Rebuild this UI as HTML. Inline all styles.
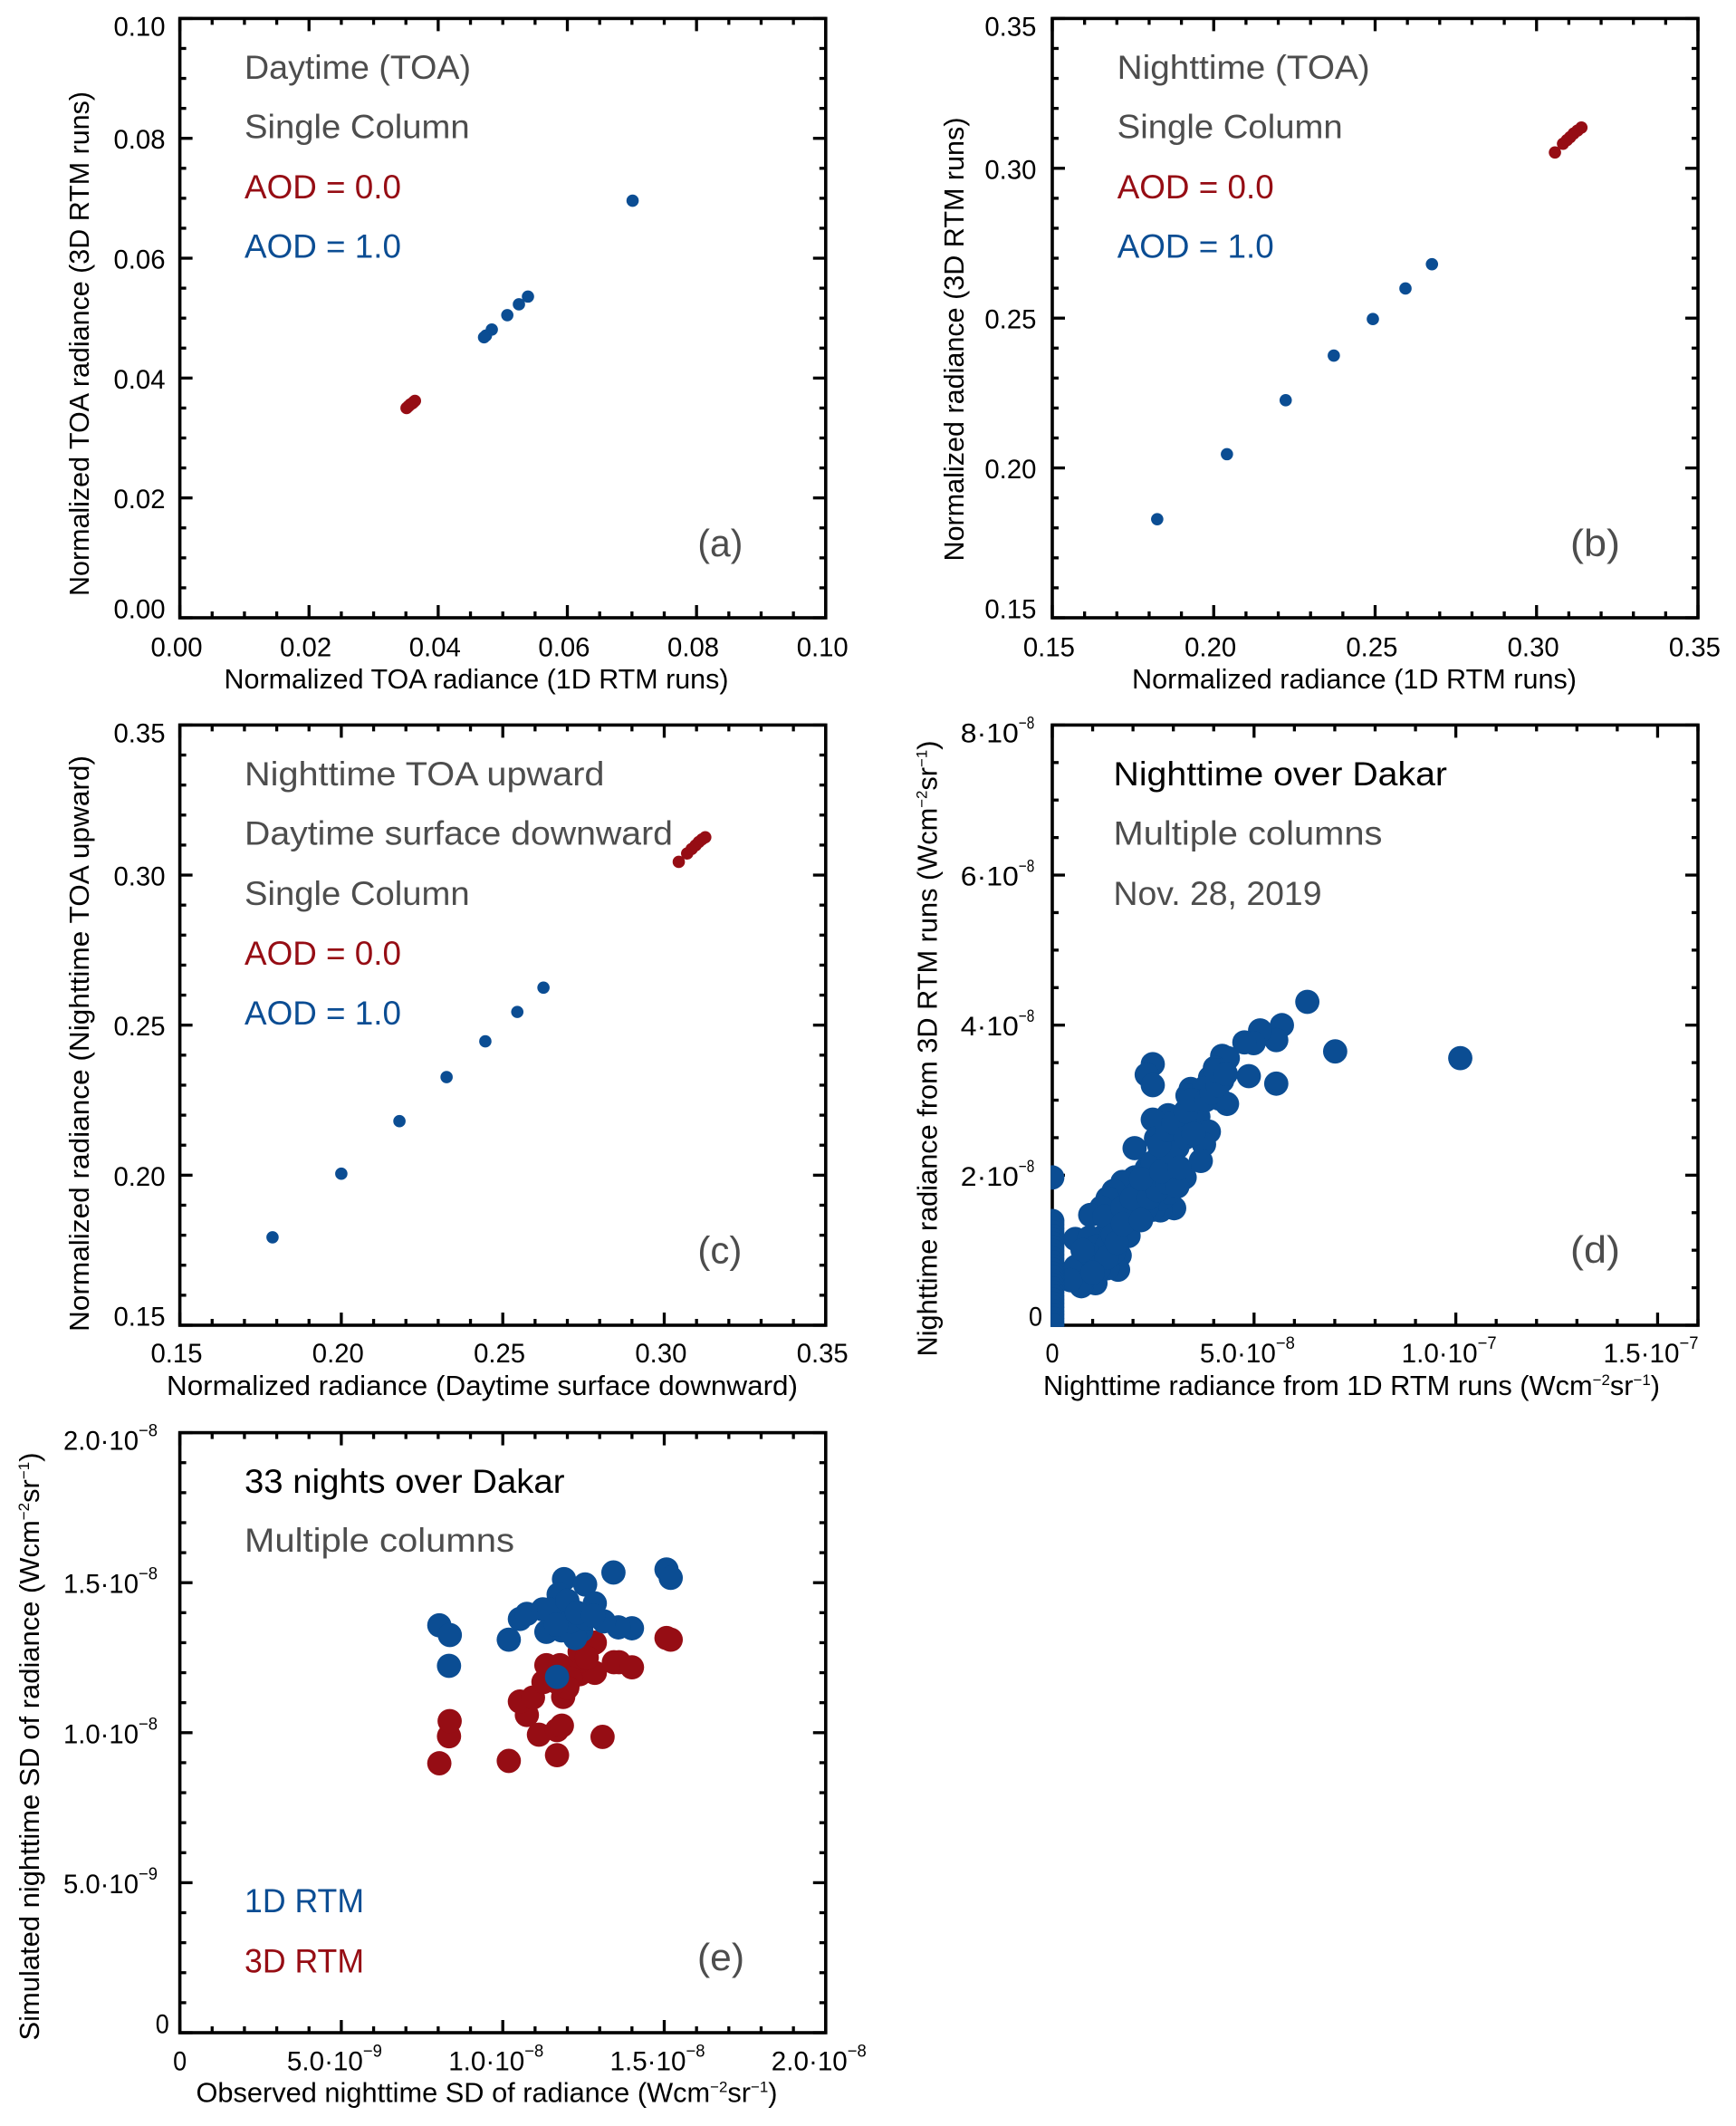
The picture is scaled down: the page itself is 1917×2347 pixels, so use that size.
<!DOCTYPE html>
<html lang="en">
<head>
<meta charset="utf-8">
<title>Radiance comparison scatter panels</title>
<style>
html,body{margin:0;padding:0;background:#fff;}
svg{display:block;}
text{font-family:"Liberation Sans",sans-serif;}
.note{font-size:37.5px;}
.plabel{font-size:42px;}
.grey{fill:#4d4d4d;}
.blk{fill:#000;}
.red{fill:#960d14;}
.blue{fill:#0b4d93;}
.ttl{font-size:31px;fill:#000;}
</style>
</head>
<body>
<svg id="fig" xmlns="http://www.w3.org/2000/svg" width="1917" height="2347" viewBox="0 0 1917 2347">
<rect x="0" y="0" width="1917" height="2347" fill="#fff"/>
<g id="marks-layer"></g>

<!-- panel a text -->
<text class="note grey" x="270" y="87" textLength="250" lengthAdjust="spacingAndGlyphs">Daytime (TOA)</text>
<text class="note grey" x="270" y="152.7" textLength="248.6" lengthAdjust="spacingAndGlyphs">Single Column</text>
<text class="note red" x="270" y="219" textLength="173" lengthAdjust="spacingAndGlyphs">AOD = 0.0</text>
<text class="note blue" x="270" y="284.6" textLength="173" lengthAdjust="spacingAndGlyphs">AOD = 1.0</text>
<text class="plabel grey" x="770.4" y="614" textLength="50" lengthAdjust="spacingAndGlyphs">(a)</text>
<text class="ttl" x="247.5" y="760" textLength="557" lengthAdjust="spacingAndGlyphs">Normalized TOA radiance (1D RTM runs)</text>
<text class="ttl" transform="translate(98,658) rotate(-90)" textLength="557" lengthAdjust="spacingAndGlyphs">Normalized TOA radiance (3D RTM runs)</text>

<!-- panel b text -->
<text class="note grey" x="1233.7" y="87" textLength="279" lengthAdjust="spacingAndGlyphs">Nighttime (TOA)</text>
<text class="note grey" x="1233.7" y="152.7" textLength="249" lengthAdjust="spacingAndGlyphs">Single Column</text>
<text class="note red" x="1233.7" y="219" textLength="173" lengthAdjust="spacingAndGlyphs">AOD = 0.0</text>
<text class="note blue" x="1233.7" y="284.6" textLength="173" lengthAdjust="spacingAndGlyphs">AOD = 1.0</text>
<text class="plabel grey" x="1734" y="614" textLength="55" lengthAdjust="spacingAndGlyphs">(b)</text>
<text class="ttl" x="1250" y="760" textLength="491" lengthAdjust="spacingAndGlyphs">Normalized radiance (1D RTM runs)</text>
<text class="ttl" transform="translate(1063.8,619.5) rotate(-90)" textLength="490" lengthAdjust="spacingAndGlyphs">Normalized radiance (3D RTM runs)</text>

<!-- panel c text -->
<text class="note grey" x="270" y="867" textLength="397.5" lengthAdjust="spacingAndGlyphs">Nighttime TOA upward</text>
<text class="note grey" x="270" y="932.7" textLength="473" lengthAdjust="spacingAndGlyphs">Daytime surface downward</text>
<text class="note grey" x="270" y="999" textLength="248.6" lengthAdjust="spacingAndGlyphs">Single Column</text>
<text class="note red" x="270" y="1065" textLength="173" lengthAdjust="spacingAndGlyphs">AOD = 0.0</text>
<text class="note blue" x="270" y="1131" textLength="173" lengthAdjust="spacingAndGlyphs">AOD = 1.0</text>
<text class="plabel grey" x="770.4" y="1394.4" textLength="49" lengthAdjust="spacingAndGlyphs">(c)</text>
<text class="ttl" x="184" y="1540" textLength="697" lengthAdjust="spacingAndGlyphs">Normalized radiance (Daytime surface downward)</text>
<text class="ttl" transform="translate(98,1470) rotate(-90)" textLength="636" lengthAdjust="spacingAndGlyphs">Normalized radiance (Nighttime TOA upward)</text>

<!-- panel d text -->
<text class="note blk" x="1229.5" y="867" textLength="368.5" lengthAdjust="spacingAndGlyphs">Nighttime over Dakar</text>
<text class="note grey" x="1229.5" y="932.7" textLength="297" lengthAdjust="spacingAndGlyphs">Multiple columns</text>
<text class="note grey" x="1229.5" y="999" textLength="230" lengthAdjust="spacingAndGlyphs">Nov. 28, 2019</text>
<text class="plabel grey" x="1734" y="1394" textLength="55" lengthAdjust="spacingAndGlyphs">(d)</text>
<text class="ttl" x="1152" y="1540" textLength="681" lengthAdjust="spacingAndGlyphs">Nighttime radiance from 1D RTM runs (Wcm<tspan dy="-11" font-size="17">−2</tspan><tspan dy="11">sr</tspan><tspan dy="-11" font-size="17">−1</tspan><tspan dy="11">)</tspan></text>
<text class="ttl" transform="translate(1034.5,1497.5) rotate(-90)" textLength="680" lengthAdjust="spacingAndGlyphs">Nighttime radiance from 3D RTM runs (Wcm<tspan dy="-11" font-size="17">−2</tspan><tspan dy="11">sr</tspan><tspan dy="-11" font-size="17">−1</tspan><tspan dy="11">)</tspan></text>

<!-- panel e text -->
<text class="note blk" x="270" y="1648" textLength="353.5" lengthAdjust="spacingAndGlyphs">33 nights over Dakar</text>
<text class="note grey" x="270" y="1713" textLength="298" lengthAdjust="spacingAndGlyphs">Multiple columns</text>
<text class="note blue" x="270" y="2111" textLength="132" lengthAdjust="spacingAndGlyphs">1D RTM</text>
<text class="note red" x="270" y="2177.5" textLength="132" lengthAdjust="spacingAndGlyphs">3D RTM</text>
<text class="plabel grey" x="770" y="2175" textLength="52" lengthAdjust="spacingAndGlyphs">(e)</text>
<text class="ttl" x="216.5" y="2320.5" textLength="642" lengthAdjust="spacingAndGlyphs">Observed nighttime SD of radiance (Wcm<tspan dy="-11" font-size="17">−2</tspan><tspan dy="11">sr</tspan><tspan dy="-11" font-size="17">−1</tspan><tspan dy="11">)</tspan></text>
<text class="ttl" transform="translate(43,2252.5) rotate(-90)" textLength="649" lengthAdjust="spacingAndGlyphs">Simulated nighttime SD of radiance (Wcm<tspan dy="-11" font-size="17">−2</tspan><tspan dy="11">sr</tspan><tspan dy="-11" font-size="17">−1</tspan><tspan dy="11">)</tspan></text>
</svg>

<script>
// ---- Panel (a) ----
const aBlueX = [0.0701, 0.0539, 0.0525, 0.0507, 0.0483, 0.0474, 0.0471];
const aBlueY = [0.0696, 0.0536, 0.0523, 0.0505, 0.0481, 0.0471, 0.0468];
const aRedX = [0.0351, 0.0354, 0.0357, 0.0360, 0.0362, 0.0364];
const aRedY = [0.0350, 0.0353, 0.0356, 0.0358, 0.0360, 0.0362];
const aTicks = [0, 0.02, 0.04, 0.06, 0.08, 0.10];
const aTickLabels = ["0.00", "0.02", "0.04", "0.06", "0.08", "0.10"];

// ---- Panel (b) ----
const bBlueX = [0.1825, 0.2041, 0.2223, 0.2372, 0.2493, 0.2594, 0.2676];
const bBlueY = [0.1829, 0.2046, 0.2226, 0.2375, 0.2497, 0.2599, 0.2680];
const bRedX = [0.3057, 0.3082, 0.3094, 0.3104, 0.3115, 0.3127, 0.3139];
const bRedY = [0.3053, 0.3082, 0.3094, 0.3104, 0.3116, 0.3126, 0.3136];
const bcTicks = [0.15, 0.20, 0.25, 0.30, 0.35];
const bcTickLabels = ["0.15", "0.20", "0.25", "0.30", "0.35"];

// ---- Panel (c) ----
const cBlueX = [0.1787, 0.2000, 0.2180, 0.2326, 0.2446, 0.2545, 0.2626];
const cBlueY = [0.1793, 0.2005, 0.2180, 0.2327, 0.2446, 0.2544, 0.2625];
const cRedX = [0.3045, 0.3071, 0.3085, 0.3097, 0.3107, 0.3117, 0.3127];
const cRedY = [0.3044, 0.3072, 0.3087, 0.3099, 0.3110, 0.3119, 0.3126];

// ---- Panel (d), values in units of 1e-8 W cm-2 sr-1 ----
const dX = [10.11, 6.32, 7.01, 5.55, 5.69, 5.55, 5.15, 4.99, 4.76, 4.87, 4.21, 4.35, 4.03, 4.33, 4.14, 4.21, 3.91,
  2.49, 2.34, 2.49, 3.43, 3.35, 3.76, 3.65, 2.87, 2.49, 3.62, 3.88, 3.76, 3.68, 3.28, 2.04, 2.57, 3.09, 3.02, 2.64,
  2.34, 3.02, 2.72, 2.04, 1.74, 1.52, 1.37, 1.22, 0.94, 3.02, 2.68, 2.49, 1.89, 2.01, 1.59, 1.89, 1.67, 1.63, 1.07,
  0.72, 0.58, 0.57, 1.00, 1.22, 1.37, 0.92, 1.44, 2.12, 2.49, 2.72, 2.34, 3.10, 2.94, 2.79, 3.17, 3.24, 2.87, 2.49,
  3.39, 3.47, 2.90, 0.92, 0.70, 1.29, 1.74, 1.97, 0.85, 1.52, 1.22,
  1.10, 1.35, 1.50, 1.15, 0.90, 0.75, 0.75, 1.35, 1.60, 1.75, 2.20, 2.40, 2.60, 2.85, 3.10, 2.20, 2.70, 2.95, 3.15,
  2.65, 2.85, 3.00, 3.30, 3.50, 3.30, 3.45, 3.80, 3.95, 4.10, 4.05, 4.30, 0.50, 0.45, 1.00,
  0, 0, 0, 0, 0, 0, 0, 0, 0, 0, 0, 0, 0, 0, 0, 0, 0, 0, 0, 0, 0, 0, 0, 0, 0, 0, 0, 0, 0, 0];
const dY = [3.56, 4.31, 3.65, 3.22, 4.00, 3.80, 3.93, 3.76, 3.77, 3.32, 3.59, 3.56, 3.43, 2.95, 3.02, 3.26, 3.30,
  3.48, 3.34, 3.20, 3.15, 3.06, 3.16, 2.98, 2.80, 2.74, 2.78, 2.58, 2.41, 2.19, 1.97, 2.36, 2.49, 2.58, 2.37, 2.25,
  2.09, 2.17, 1.93, 1.97, 1.91, 1.79, 1.69, 1.57, 1.47, 1.56, 1.53, 1.54, 1.33, 1.49, 1.37, 1.19, 0.93, 0.74, 0.56,
  0.52, 0.78, 1.15, 0.97, 1.17, 0.76, 0.72, 1.37, 1.77, 1.85, 1.69, 1.57, 2.37, 2.01, 2.49, 2.78, 2.58, 2.25, 2.17,
  2.66, 2.90, 1.77, 1.17, 0.80, 1.45, 1.57, 1.69, 0.85, 0.97, 0.85,
  1.05, 1.05, 1.20, 0.75, 0.95, 0.60, 1.00, 0.90, 1.10, 1.35, 1.40, 1.70, 1.80, 1.90, 1.85, 1.95, 2.05, 2.30, 2.10,
  2.40, 2.60, 2.70, 2.50, 2.55, 2.85, 3.00, 3.00, 3.10, 3.20, 3.40, 3.35, 0.72, 0.60, 0.70,
  1.97, 1.39, 1.34, 1.29, 1.24, 1.19, 1.14, 1.09, 1.04, 0.99, 0.94, 0.89, 0.84, 0.79, 0.74, 0.69, 0.64, 0.59, 0.54,
  0.49, 0.44, 0.39, 0.34, 0.29, 0.24, 0.19, 0.14, 0.09, 0.04, 0];
const dXTicks = [0, 5, 10, 15];
const dXTickLabels = ["0", "5.0·10", "1.0·10", "1.5·10"];
const dXTickExps = ["", "−8", "−7", "−7"];
const dYTicks = [0, 2, 4, 6, 8];
const dYTickLabels = ["0", "2·10", "4·10", "6·10", "8·10"];
const dYTickExps = ["", "−8", "−8", "−8", "−8"];

// ---- Panel (e), values in units of 1e-8 W cm-2 sr-1 ----
const eRedX = [0.8035, 1.0186, 1.168, 1.309, 0.8335, 0.8355, 1.112, 1.168, 1.183, 1.0746, 1.053, 1.0935, 1.187,
  1.126, 1.135, 1.177, 1.238, 1.285, 1.241, 1.285, 1.344, 1.36, 1.40, 1.507, 1.52, 1.238, 1.21, 1.20, 1.26, 1.165];
const eRedY = [0.898, 0.906, 0.925, 0.986, 0.988, 1.0387, 0.9934, 1.0085, 1.0236, 1.059, 1.104, 1.117, 1.119,
  1.169, 1.225, 1.225, 1.195, 1.1996, 1.24, 1.30, 1.235, 1.235, 1.218, 1.3155, 1.31, 1.27, 1.18, 1.15, 1.25, 1.17];
const eBlueX = [0.8035, 0.836, 0.8335, 1.0186, 1.053, 1.0746, 1.124, 1.135, 1.1896, 1.173, 1.255, 1.285, 1.3427,
  1.507, 1.52, 1.40, 1.358, 1.313, 1.243, 1.224, 1.182, 1.187, 1.21, 1.163, 1.145, 1.257, 1.168, 1.20, 1.23, 1.165, 1.28];
const eBlueY = [1.358, 1.3255, 1.2228, 1.31, 1.379, 1.396, 1.411, 1.336, 1.512, 1.461, 1.494, 1.431, 1.534,
  1.544, 1.516, 1.348, 1.351, 1.371, 1.341, 1.3155, 1.341, 1.411, 1.371, 1.391, 1.411, 1.381, 1.186, 1.44, 1.40, 1.36, 1.39];
const eTicks = [0, 0.5, 1.0, 1.5, 2.0];
const eXTickLabels = ["0", "5.0·10", "1.0·10", "1.5·10", "2.0·10"];
const eXTickExps = ["", "−9", "−8", "−8", "−8"];
const eYTickLabels = ["0", "5.0·10", "1.0·10", "1.5·10", "2.0·10"];
const eYTickExps = ["", "−9", "−8", "−8", "−8"];

const RED = "#960d14";
const BLUE = "#0b4d93";
const NS = "http://www.w3.org/2000/svg";
const layer = document.getElementById("marks-layer");

function node(parent, tag) {
  const el = document.createElementNS(NS, tag);
  parent.appendChild(el);
  return el;
}

function label(parent, name, str, x, y, size, anchor, len) {
  const el = node(parent, "text");
  
  
  el.setAttribute("x", x);
  el.setAttribute("y", y);
  el.setAttribute("font-size", size);
  el.setAttribute("fill", "#000");
  el.setAttribute("text-anchor", anchor);
  if (len) {
    el.setAttribute("textLength", len);
    el.setAttribute("lengthAdjust", "spacingAndGlyphs");
  }
  el.textContent = str;
  return el;
}

function tickLine(parent, name, x1, y1, x2, y2, w) {
  const el = node(parent, "line");
  
  
  el.setAttribute("x1", x1);
  el.setAttribute("y1", y1);
  el.setAttribute("x2", x2);
  el.setAttribute("y2", y2);
  el.setAttribute("stroke", "#000");
  el.setAttribute("stroke-width", w);
}

function drawPanel(p) {
  const g = node(layer, "g");
  
  
  const xS = v => p.L + (v - p.xDom[0]) / (p.xDom[1] - p.xDom[0]) * (p.R - p.L);
  const yS = v => p.B - (v - p.yDom[0]) / (p.yDom[1] - p.yDom[0]) * (p.B - p.T);

  const frame = node(g, "rect");
  
  
  frame.setAttribute("x", p.L);
  frame.setAttribute("y", p.T);
  frame.setAttribute("width", p.R - p.L);
  frame.setAttribute("height", p.B - p.T);
  frame.setAttribute("fill", "none");
  frame.setAttribute("stroke", "#000");
  frame.setAttribute("stroke-width", 3.6);

  // ticks on all four sides
  const ticksFor = (ticks, dom, div) => {
    const step = ticks[1] - ticks[0];
    const out = [];
    let first = ticks[0];
    const total = Math.round((dom[1] - first) / (step / div));
    for (let i = 0; i <= total; i++) {
      out.push({ v: first + i * step / div, major: i % div === 0 });
    }
    return out;
  };
  ticksFor(p.xTicks, p.xDom, p.xDiv).forEach(t => {
    const len = t.major ? 14 : 7;
    const w = 3.3;
    const x = xS(t.v);
    tickLine(g, p.id + '-x-tick-bottom', x, p.B, x, p.B - len, w);
    tickLine(g, p.id + '-x-tick-top', x, p.T, x, p.T + len, w);
  });
  ticksFor(p.yTicks, p.yDom, p.yDiv).forEach(t => {
    const len = t.major ? 14 : 7;
    const w = 3.3;
    const y = yS(t.v);
    tickLine(g, p.id + '-y-tick-left', p.L, y, p.L + len, y, w);
    tickLine(g, p.id + '-y-tick-right', p.R, y, p.R - len, y, w);
  });

  // x tick labels
  p.xTicks.forEach((v, i) => {
    const str = p.xLabels[i];
    const exp = p.xExps ? p.xExps[i] : "";
    if (exp) {
      const left = xS(v) - 60;
      label(g, p.id + '-x-tick-label', str, left, p.xBase, 30, "start", 84);
      label(g, p.id + '-x-tick-exponent', exp, left + 84, p.xBase - 15, 19, "start", 21);
    } else if (p.xExps) {
      label(g, p.id + '-x-tick-label', str, xS(v), p.xBase, 30, "middle", 15);
    } else {
      label(g, p.id + '-x-tick-label', str, xS(v) - 3.6, p.xBase, 30, "middle", 57);
    }
  });

  // y tick labels
  const yMin = p.yTicks[0];
  const yMax = p.yTicks[p.yTicks.length - 1];
  p.yTicks.forEach((v, i) => {
    const str = p.yLabels[i];
    const exp = p.yExps ? p.yExps[i] : "";
    const off = v === yMin ? 0.4 : (v === yMax ? 19 : 11.5);
    const base = yS(v) + off;
    if (exp) {
      label(g, p.id + '-y-tick-label', str, p.yBaseEnd, base, 30, "end", p.yBaseLen);
      label(g, p.id + '-y-tick-exponent', exp, p.yBaseEnd, base - 15, 19, "start", p.yExpLen);
    } else if (p.yExps) {
      label(g, p.id + '-y-tick-label', str, p.yZeroEnd, base, 30, "end", 15);
    } else {
      label(g, p.id + '-y-tick-label', str, p.yEnd, base, 30, "end", 57);
    }
  });

  // scatter marks, clipped to the outer edge of the frame
  const clipId = "clip-" + p.id;
  const defs = node(g, "defs");
  const clip = node(defs, "clipPath");
  clip.setAttribute("id", clipId);
  const clipRect = node(clip, "rect");
  clipRect.setAttribute("x", p.L - 1.8);
  clipRect.setAttribute("y", p.T - 1.8);
  clipRect.setAttribute("width", p.R - p.L + 3.6);
  clipRect.setAttribute("height", p.B - p.T + 3.6);

  p.series.forEach(s => {
    const sg = node(g, "g");
    
    
    sg.setAttribute("clip-path", "url(#" + clipId + ")");
    s.x.forEach((xv, i) => {
      const c = node(sg, "circle");
      
      
      c.setAttribute("cx", xS(xv));
      c.setAttribute("cy", yS(s.y[i]));
      c.setAttribute("r", p.r);
      c.setAttribute("fill", s.color);
    });
  });
}

drawPanel({
  id: "a", L: 198.6, R: 911.8, T: 20.4, B: 682, r: 6.8,
  xDom: [0, 0.10], yDom: [0, 0.10], xDiv: 4, yDiv: 4,
  xTicks: aTicks, yTicks: aTicks, xLabels: aTickLabels, yLabels: aTickLabels,
  xBase: 724.4, yEnd: 182.5,
  series: [
    { name: "aod-1", x: aBlueX, y: aBlueY, color: BLUE },
    { name: "aod-0", x: aRedX, y: aRedY, color: RED }
  ]
});
drawPanel({
  id: "b", L: 1162, R: 1875, T: 20.4, B: 682, r: 6.8,
  xDom: [0.15, 0.35], yDom: [0.15, 0.35], xDiv: 5, yDiv: 5,
  xTicks: bcTicks, yTicks: bcTicks, xLabels: bcTickLabels, yLabels: bcTickLabels,
  xBase: 724.4, yEnd: 1144.4,
  series: [
    { name: "aod-1", x: bBlueX, y: bBlueY, color: BLUE },
    { name: "aod-0", x: bRedX, y: bRedY, color: RED }
  ]
});
drawPanel({
  id: "c", L: 198.6, R: 911.8, T: 800.4, B: 1463, r: 6.8,
  xDom: [0.15, 0.35], yDom: [0.15, 0.35], xDiv: 5, yDiv: 5,
  xTicks: bcTicks, yTicks: bcTicks, xLabels: bcTickLabels, yLabels: bcTickLabels,
  xBase: 1504, yEnd: 182.5,
  series: [
    { name: "aod-1", x: cBlueX, y: cBlueY, color: BLUE },
    { name: "aod-0", x: cRedX, y: cRedY, color: RED }
  ]
});
drawPanel({
  id: "d", L: 1162, R: 1875, T: 800.4, B: 1463, r: 13.4,
  xDom: [0, 16], yDom: [0, 8], xDiv: 5, yDiv: 4,
  xTicks: dXTicks, yTicks: dYTicks, xLabels: dXTickLabels, yLabels: dYTickLabels,
  xExps: dXTickExps, yExps: dYTickExps,
  xBase: 1504, yBaseEnd: 1124.8, yBaseLen: 64, yExpLen: 17.5, yZeroEnd: 1151,
  series: [{ name: "radiance", x: dX, y: dY, color: BLUE }]
});
drawPanel({
  id: "e", L: 198.6, R: 911.8, T: 1581.6, B: 2244, r: 13.4,
  xDom: [0, 2], yDom: [0, 2], xDiv: 5, yDiv: 5,
  xTicks: eTicks, yTicks: eTicks, xLabels: eXTickLabels, yLabels: eYTickLabels,
  xExps: eXTickExps, yExps: eYTickExps,
  xBase: 2285.4, yBaseEnd: 153, yBaseLen: 83, yExpLen: 21, yZeroEnd: 186.8,
  series: [
    { name: "3d-rtm", x: eRedX, y: eRedY, color: RED },
    { name: "1d-rtm", x: eBlueX, y: eBlueY, color: BLUE }
  ]
});
</script>
</body>
</html>
